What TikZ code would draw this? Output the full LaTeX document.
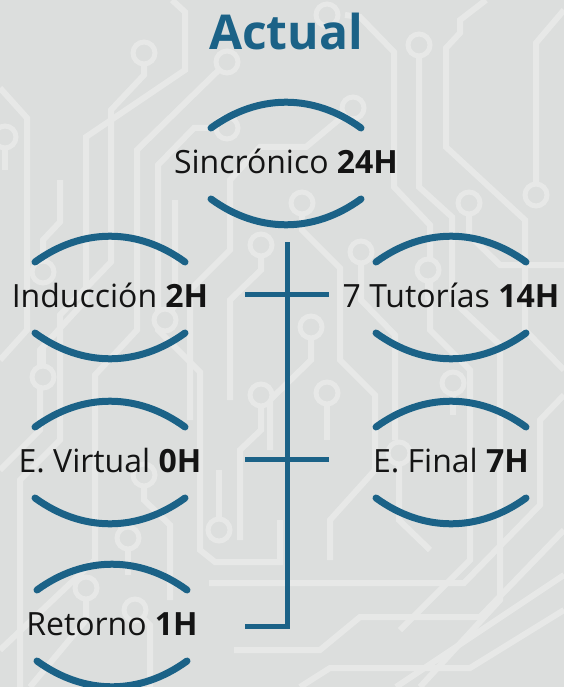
\documentclass[tikz,border=0pt]{standalone}
\usepackage{fontspec}
\setmainfont{Open Sans}
\definecolor{tealblue}{HTML}{1B6287}
\definecolor{boardgray}{HTML}{DCDEDD}
\definecolor{tracegray}{HTML}{E7E8E7}
\begin{document}
\begin{tikzpicture}[x=1pt,y=1pt,
  lbl/.style={anchor=base,inner sep=0pt,font=\fontsize{32}{38}\selectfont,text=black!92},
  rim/.style={tealblue,line width=7pt,line cap=round},
  link/.style={tealblue,line width=5pt},
  trace/.style={tracegray,line width=6pt},
  pad/.style={tracegray,line width=5pt,fill=boardgray}]
 \fill[boardgray] (0,0) rectangle (564,-687);
 \useasboundingbox (0,0) rectangle (564,-687);
 % board traces
 \begin{scope}
 \clip (0,0) rectangle (564,-687);
 \draw[trace] (172,0)--(185,-12)--(185,-70)--(86,-137)--(86,-300)--(40,-350)--(40,-430)--(0,-470);
 \draw[trace] (144,-53)--(144,-75)--(111,-110)--(111,-262)--(60,-315)--(60,-440)--(20,-480)--(20,-700);
 \draw[trace] (227,-62)--(137,-150)--(137,-330)--(95,-375)--(95,-560)--(0,-650);
 \draw[trace] (0,-88)--(27,-118)--(27,-330)--(0,-360);
 \draw[trace] (5,-137)--(5,-170);
 \draw[trace] (345,-15)--(360,-17)--(394,-52)--(394,-187)--(430,-225)--(430,-330)--(470,-370)--(470,-560)--(400,-630);
 \draw[trace] (419,-45)--(419,-187)--(452,-217)--(452,-300)--(500,-345)--(500,-600)--(420,-687);
 \draw[trace] (486,0)--(460,-20)--(460,-33)--(446,-48)--(446,-147)--(525,-220)--(525,-330)--(564,-370);
 \draw[trace] (564,-10)--(536,-43)--(536,-195);
 \draw[trace] (353,-108)--(306,-147)--(260,-147)--(230,-180)--(230,-250)--(190,-290)--(190,-420);
 \draw[trace] (227,-128)--(194,-128)--(158,-165)--(158,-330)--(200,-372)--(200,-550)--(215,-562)--(280,-562)--(280,-520);
 \draw[trace] (302,-203)--(302,-230)--(340,-268)--(340,-360)--(375,-395)--(375,-470)--(330,-520)--(330,-560);
 \draw[trace] (469,-203)--(469,-235)--(500,-265)--(564,-265);
 \draw[trace] (261,-245)--(261,-270)--(230,-300)--(230,-400);
 \draw[trace] (311,-327)--(311,-360)--(270,-400)--(270,-450);
 \draw[trace] (361,-252)--(361,-300)--(395,-335)--(395,-440);
 \draw[trace] (428,-270)--(428,-300);
 \draw[trace] (43,-272)--(43,-240)--(60,-222)--(60,-180);
 \draw[trace] (43,-377)--(43,-345);
 \draw[trace] (165,-320)--(175,-305)--(175,-200);
 \draw[trace] (261,-395)--(261,-430)--(240,-450)--(240,-540);
 \draw[trace] (327,-393)--(327,-440);
 \draw[trace] (453,-383)--(453,-415);
 \draw[trace] (144,-475)--(144,-500)--(170,-525)--(170,-600);
 \draw[trace] (219,-530)--(219,-470);
 \draw[trace] (128,-538)--(128,-575);
 \draw[trace] (86,-588)--(86,-620)--(30,-687);
 \draw[trace] (135,-610)--(150,-625)--(150,-687);
 \draw[trace] (209,-583)--(464,-583)--(540,-505)--(540,-420)--(564,-395);
 \draw[trace] (234,-650)--(320,-650)--(360,-617)--(480,-617)--(564,-530);
 \draw[trace] (396,-687)--(564,-575);
 \draw[trace] (300,-687)--(330,-668)--(470,-668)--(564,-610);
 \draw[trace] (399,-453)--(399,-520)--(430,-550);
 \foreach \p in {(144,-53),(227,-62),(5,-137),(327,-15),(419,-45),(536,-195),(353,-108),(227,-128),
   (302,-203),(469,-203),(261,-245),(311,-327),(361,-252),(428,-270),(43,-272),(43,-377),(165,-320),
   (261,-395),(327,-393),(453,-383),(144,-475),(219,-530),(128,-538),(86,-588),(135,-610),(399,-453)}
   \draw[pad] \p circle (11);
 \end{scope}
 % labels
 \node[anchor=base,inner sep=0pt,font=\fontsize{48}{56}\selectfont\bfseries,text=tealblue] (title) at (286,-50) {Actual};
 \node[lbl] (sinc) at (286,-173) {Sincrónico \textbf{24H}};
 \node[lbl] (ind) at (110,-307) {Inducción \textbf{2H}};
 \node[lbl] (tut) at (451,-307) {7 Tutorías \textbf{14H}};
 \node[lbl] (vir) at (110,-472) {E. Virtual \textbf{0H}};
 \node[lbl] (fin) at (451,-472) {E. Final \textbf{7H}};
 \node[lbl] (ret) at (112,-635) {Retorno \textbf{1H}};
 \foreach \n in {sinc,ind,tut,vir,fin,ret} {
   \draw[rim] ([shift={(-75,45)}]\n.base) to[bend left=36] ([shift={(75,45)}]\n.base);
   \draw[rim] ([shift={(-75,-26)}]\n.base) to[bend right=36] ([shift={(75,-26)}]\n.base);
 }
 % spine
 \coordinate (s0) at (287,-242); \coordinate (s3) at (287,-626);
 \coordinate (l1) at (245,-294); \coordinate (r1) at (329,-294);
 \coordinate (l2) at (245,-459); \coordinate (r2) at (329,-459);
 \coordinate (l3) at (245,-626);
 \draw[link] (s0)--(s3)--(l3);
 \draw[link] (l1)--(r1);
 \draw[link] (l2)--(r2);
\end{tikzpicture}
\end{document}
